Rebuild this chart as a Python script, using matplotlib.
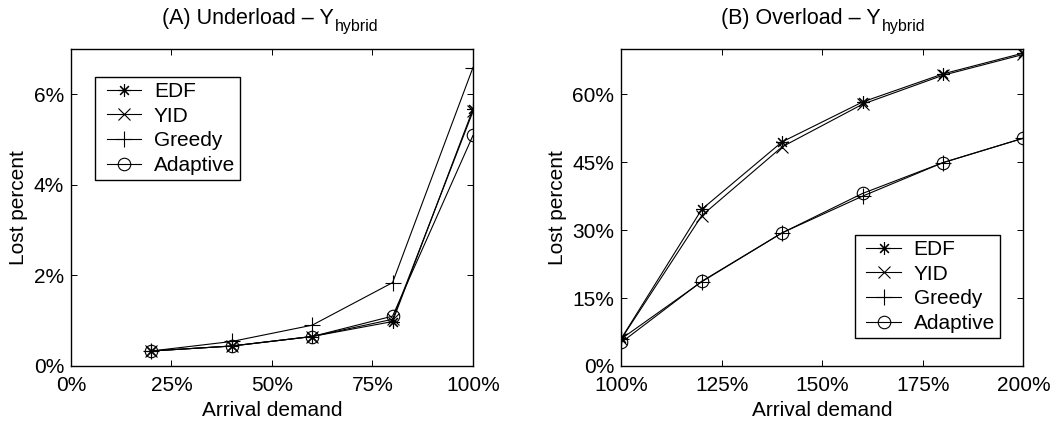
import matplotlib
matplotlib.use("Agg")
import matplotlib.pyplot as plt
from matplotlib.ticker import FuncFormatter
from matplotlib.legend_handler import HandlerLine2D

plt.rcParams['font.family'] = ['Liberation Sans', 'DejaVu Sans']

series = ["EDF", "YID", "Greedy", "Adaptive"]

x_under = [0.2, 0.4, 0.6, 0.8, 1.0]
under_edf = [0.33, 0.44, 0.65, 0.98, 5.67]
under_yid = [0.33, 0.44, 0.65, 1.03, 5.62]
under_greedy = [0.33, 0.54, 0.90, 1.84, 6.59]
under_adaptive = [0.33, 0.44, 0.65, 1.10, 5.09]

x_over = [1.0, 1.2, 1.4, 1.6, 1.8, 2.0]
over_edf = [6.1, 34.6, 49.5, 58.3, 64.5, 69.1]
over_yid = [6.0, 33.2, 48.4, 57.8, 64.2, 68.8]
over_greedy = [6.0, 18.6, 29.4, 37.5, 44.9, 50.3]
over_adaptive = [5.2, 18.7, 29.4, 38.1, 44.9, 50.3]

under_ticks_x = [0, 0.25, 0.5, 0.75, 1.0]
under_ticks_y = [0, 2, 4, 6]
over_ticks_x = [1.0, 1.25, 1.5, 1.75, 2.0]
over_ticks_y = [0, 15, 30, 45, 60]

title_main = ["(A) Underload – Y", "(B) Overload – Y"]
title_sub = "hybrid"

markers = [(8, 2, 0), 'x', '+', 'o']
msizes = [9, 8, 11, 9]

fig = plt.figure(figsize=(10.55, 4.26), dpi=100)
axA = fig.add_axes([0.0673, 0.141, 0.381, 0.744])
axB = fig.add_axes([0.589, 0.141, 0.381, 0.744])

FS = 15

def style(ax, xt, yt, xfmt, yfmt):
    ax.set_xticks(xt)
    ax.set_yticks(yt)
    ax.xaxis.set_major_formatter(FuncFormatter(xfmt))
    ax.yaxis.set_major_formatter(FuncFormatter(yfmt))
    ax.tick_params(direction='in', top=True, right=True, labelsize=FS, length=4, width=0.7)
    ax.tick_params(axis='x', pad=7.5)
    ax.tick_params(axis='y', pad=5)
    for s in ax.spines.values():
        s.set_linewidth(1.0)
    ax.set_xlabel("Arrival demand", fontsize=FS, labelpad=4)
    ax.set_ylabel("Lost percent", fontsize=FS, labelpad=4)

def add_title(ax, main, xsplit):
    ax.text(xsplit, 1.08, main, transform=ax.transAxes, ha='right', va='baseline', fontsize=15.5)
    ax.text(xsplit + 0.003, 1.0555, title_sub, transform=ax.transAxes, ha='left', va='baseline', fontsize=11.5)

def add_legend(ax, loc, anchor):
    hm = {h: HandlerLine2D(xpad=0.31) for h in ax.get_lines()}
    leg = ax.legend(loc=loc, bbox_to_anchor=anchor, borderaxespad=0, fontsize=FS, fancybox=False,
                    edgecolor='black', framealpha=1, borderpad=0.25, handlelength=1.98,
                    labelspacing=0.27, handletextpad=0.6, handler_map=hm)
    leg.get_frame().set_linewidth(1.0)
    return leg

for ys, m, ms, name in zip([under_edf, under_yid, under_greedy, under_adaptive], markers, msizes, series):
    axA.plot(x_under, ys, color='black', lw=0.8, marker=m, markersize=ms,
             markerfacecolor='none', markeredgecolor='black', markeredgewidth=0.8, label=name)
axA.set_xlim(0, 1.0)
axA.set_ylim(0, 7)
style(axA, under_ticks_x, under_ticks_y, lambda v, p: f"{v*100:.0f}%", lambda v, p: f"{v:.0f}%")
add_title(axA, title_main[0], 0.6525)
add_legend(axA, 'upper left', (0.0597, 0.912))

for ys, m, ms, name in zip([over_edf, over_yid, over_greedy, over_adaptive], markers, msizes, series):
    axB.plot(x_over, ys, color='black', lw=0.8, marker=m, markersize=ms,
             markerfacecolor='none', markeredgecolor='black', markeredgewidth=0.8, label=name)
axB.set_xlim(1.0, 2.0)
axB.set_ylim(0, 70)
style(axB, over_ticks_x, over_ticks_y, lambda v, p: f"{v*100:.0f}%", lambda v, p: f"{v:.0f}%")
add_title(axB, title_main[1], 0.646)
add_legend(axB, 'lower right', (0.942, 0.088))

fig.savefig("out.png", dpi=100)
